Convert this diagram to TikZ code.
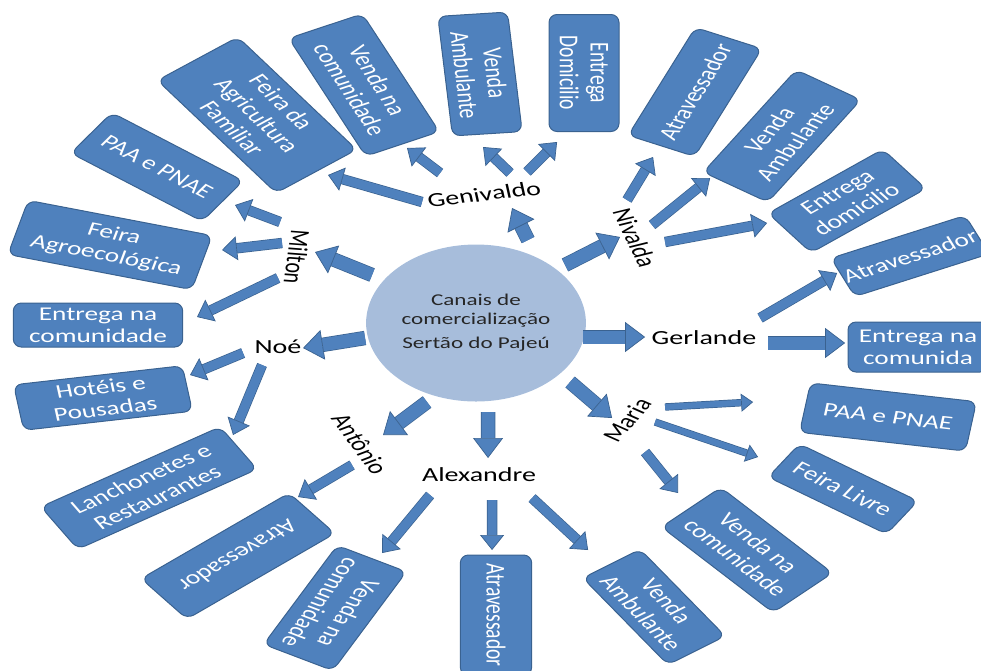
\documentclass[tikz,border=0pt]{standalone}
\usepackage{fontspec}
\setmainfont{Carlito}
\usetikzlibrary{arrows.meta,calc}

\definecolor{boxblue}{HTML}{4F81BD}
\definecolor{boxedge}{HTML}{3A6290}
\definecolor{hubblue}{HTML}{A7BDDB}

\tikzset{
  outlet/.style 2 args={rectangle, rounded corners=8pt, draw=boxedge, line width=1pt,
    fill=boxblue, text=white, align=center, inner sep=1pt,
    minimum width=#1, minimum height=#2, font=\fontsize{19.5}{22}\selectfont},
  seller/.style={inner sep=1pt, font=\fontsize{20}{24}\selectfont},
  hub/.style={circle, fill=hubblue, minimum size=157pt, align=center,
    text=black!85, font=\fontsize{16.5}{19}\selectfont},
  barrow/.style={draw=boxedge, line width=0.7pt, double=boxblue, double distance=9pt,
    -{Triangle[length=15pt,width=24pt,fill=boxblue]}},
  bigarrow/.style={draw=boxedge, line width=0.7pt, double=boxblue, double distance=13pt,
    -{Triangle[length=20pt,width=30pt,fill=boxblue]}},
  slimarrow/.style={draw=boxedge, line width=0.7pt, double=boxblue, double distance=6pt,
    -{Triangle[length=12pt,width=18pt,fill=boxblue]}},
}

\begin{document}
\begin{tikzpicture}[x=0.714286pt, y=-1pt, xscale=1.4, every node/.append style={transform shape}]
\useasboundingbox (0,0) rectangle (981,670);

% Centre
\node[hub] (hub) at (476,323) {Canais de\\comercialização\\[5pt]Sertão do Pajeú};

% Producers
\node[seller, rotate=9] (geni) at (484,194) {Genivaldo};
\node[seller, rotate=-96] (milton) at (297,257) {Milton};
\node[seller] (noe) at (278,347) {Noé};
\node[seller, rotate=-62] (antonio) at (360,444) {Antônio};
\node[seller] (alex) at (479,475) {Alexandre};
\node[seller, rotate=58] (maria) at (627,420) {Maria};
\node[seller] (gerl) at (704,338) {Gerlande};
\node[seller, rotate=-71] (niv) at (635,238) {Nivalda};

% Channels
\node[outlet={141}{72}, rotate=-53] (g1) at (257,115) {Feira da\\Agricultura\\Familiar};
\node[outlet={130}{58}, rotate=-65] (g2) at (364,85) {Venda na\\comunidade};
\node[outlet={120}{50}, rotate=-85] (g3) at (480,74) {Venda\\Ambulante};
\node[outlet={117}{50}, rotate=-90] (g4) at (584,73) {Entrega\\Domicilio};
\node[outlet={116}{50}, rotate=-36] (m1) at (157,167) {PAA e PNAE};
\node[outlet={136}{56}, rotate=-15] (m2) at (110,245) {Feira\\Agroecológica};
\node[outlet={121}{44}] (m3) at (98,325) {Entrega na\\comunidade};
\node[outlet={122}{46}, rotate=9] (n1) at (103,398) {Hotéis e\\Pousadas};
\node[outlet={151}{50}, rotate=32] (n2) at (149,488) {Lanchonetes e\\Restaurantes};
\node[outlet={136}{52}, rotate=219] (a1) at (238,556) {Atravessador};
\node[outlet={112}{56}, rotate=-118] (x1) at (335,608) {Venda na\\comunidade};
\node[outlet={120}{51}, rotate=-90] (x2) at (496,615) {Atravessador};
\node[outlet={106}{50}, rotate=-55] (x3) at (654,607) {Venda\\Ambulante};
\node[outlet={120}{50}, rotate=-9] (r1) at (888,417) {PAA e PNAE};
\node[outlet={102}{40}, rotate=-34] (r2) at (843,489) {Feira Livre};
\node[outlet={117}{58}, rotate=-47] (r3) at (747,550) {Venda na\\comunidade};
\node[outlet={100}{42}, rotate=24] (e1) at (910,256) {Atravessador};
\node[outlet={100}{50}] (e2) at (918,347) {Entrega na\\comunida};
\node[outlet={118}{52}, rotate=66] (v1) at (695,92) {Atravessador};
\node[outlet={122}{55}, rotate=57] (v2) at (782,136) {Venda\\Ambulante};
\node[outlet={104}{50}, rotate=38] (v3) at (847,201) {Entrega\\domicilio};

% Arrows from the centre
\foreach \who/\tx/\ty/\px/\py in {geni/52/-83/28/14, niv/89/-58/-15/-1,
    gerl/107/14/-59/-1, maria/94/59/-15/-2, alex/12/89/9/-17,
    antonio/-49/79/23/-9, noe/-111/15/25/1, milton/-104/-48/18/-5}
  \draw[bigarrow] ($(hub)+(\tx,\ty)$) -- ($(\who)+(\px,\py)$);

% Arrows to the channels
\foreach \src/\tx/\ty/\dst/\px/\py in {
    geni/-62/8/g1/71/60, geni/-44/-21/g2/43/63, geni/26/-21/g3/3/73, geni/43/-22/g4/-27/69,
    milton/-17/-35/m1/78/38, milton/-15/-14/m2/112/5, milton/-19/21/m3/99/-8,
    noe/-35/6/n1/87/-23, noe/-16/18/n2/84/-53,
    antonio/-8/21/a1/60/-59,
    alex/-49/20/x1/47/-55, alex/13/25/x2/-4/-65, alex/53/23/x3/-66/-57,
    maria/18/32/r3/-69/-57,
    gerl/56/-20/e1/-73/17,
    niv/-8/-38/v1/-42/65, niv/17/-13/v2/-72/42, niv/30/4/v3/-80/22}
  \draw[barrow] ($(\src)+(\tx,\ty)$) -- ($(\dst)+(\px,\py)$);

\draw[slimarrow] ($(maria)+(38,-13)$) -- ($(r1)+(-135,-15)$);
\draw[slimarrow] ($(maria)+(28,2)$) -- ($(r2)+(-85,-32)$);
\draw[bigarrow] ($(gerl)+(64,5)$) -- ($(e2)+(-73,-4)$);

\end{tikzpicture}
\end{document}
